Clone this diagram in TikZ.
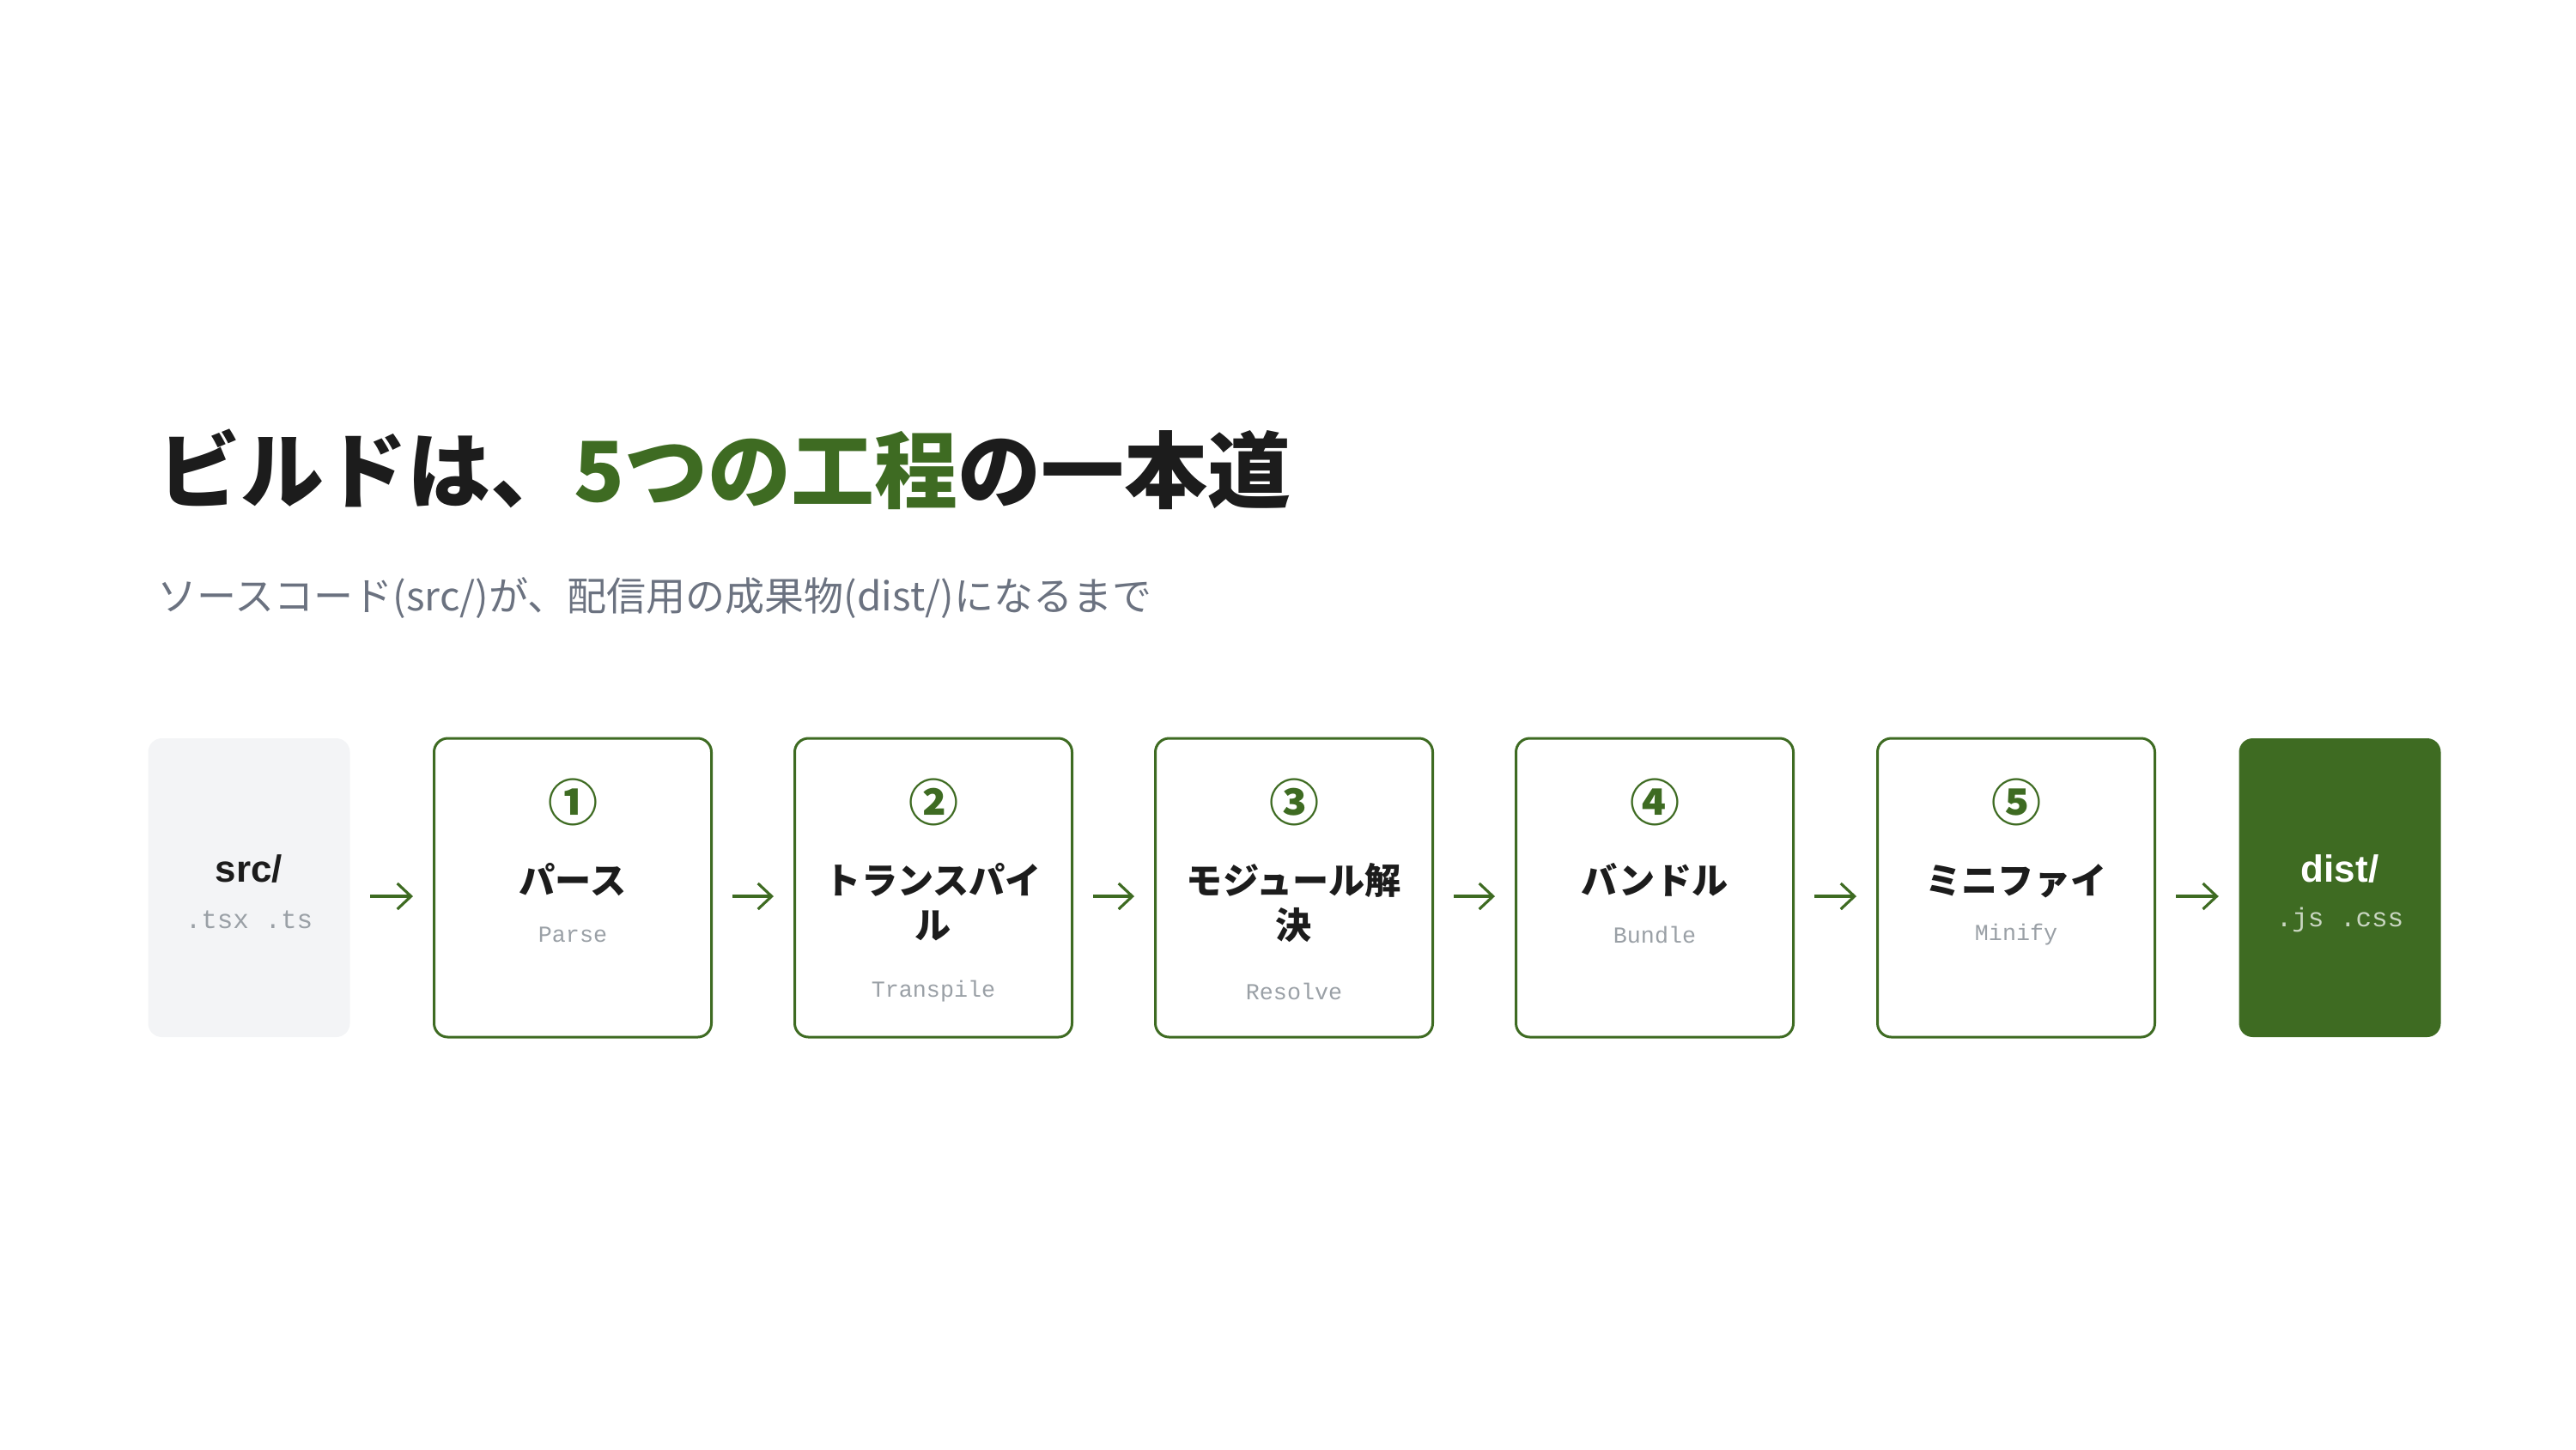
\documentclass[tikz,border=0pt]{standalone}
\usepackage{fontspec}
\setmainfont{Noto Sans CJK JP}
\setmonofont{Liberation Mono}
\newfontfamily\latinsans{Liberation Sans}
\usetikzlibrary{arrows.meta}
\definecolor{MyGreen}{HTML}{3E6B22}
\definecolor{InkBlack}{HTML}{1C1C1C}
\definecolor{SubGray}{HTML}{6B7280}
\definecolor{CodeGray}{HTML}{9AA0A6}
\definecolor{SrcGray}{HTML}{F3F4F6}
\colorlet{DistCode}{white!72!MyGreen}

\begin{document}
\begin{tikzpicture}[
    stepbox/.style={draw=MyGreen, line width=0.85pt, fill=white, rounded corners=0.16cm,
        minimum width=3.23cm, minimum height=3.48cm, inner sep=0pt},
    endbox/.style={rounded corners=0.16cm, minimum width=2.35cm, minimum height=3.48cm, inner sep=0pt},
    numtext/.style={inner sep=0pt, text=MyGreen, font=\bfseries\fontsize{16.5}{18}\selectfont},
    jatext/.style={inner sep=0pt, anchor=base, align=center, text=InkBlack,
        font=\bfseries\fontsize{12}{14.8}\selectfont},
    entext/.style={inner sep=0pt, text=CodeGray, font=\ttfamily\fontsize{7.6}{9}\selectfont},
    dirtext/.style={inner sep=0pt, font=\latinsans\bfseries\fontsize{12.5}{15}\selectfont},
    exttext/.style={inner sep=0pt, font=\ttfamily\fontsize{8.8}{10}\selectfont},
    flow/.style={MyGreen, line width=0.9pt, -{Straight Barb[length=1.6mm,width=3mm]},
        shorten <=0.23cm, shorten >=0.23cm}]
    \useasboundingbox (0,0) rectangle (30,-16.88);

    % heading
    \node[anchor=west, inner sep=0pt, text=InkBlack, font=\bfseries\fontsize{27.6}{34}\selectfont]
        (title) at (1.83,-5.47) {ビルドは、\textcolor{MyGreen}{5つの工程}の一本道};
    \node[anchor=west, inner sep=0pt, text=SubGray, font=\fontsize{13.1}{16}\selectfont]
        (subtitle) at (1.83,-6.97) {ソースコード(src/)が、配信用の成果物(dist/)になるまで};

    % input and output
    \node[endbox, fill=SrcGray] (src) at (2.90,-10.34) {};
    \node[dirtext, text=InkBlack] (srcdir) at (2.90,-10.12) {src/};
    \node[exttext, text=CodeGray] (srcext) at (2.90,-10.71) {.tsx .ts};

    \node[endbox, fill=MyGreen] (dist) at (27.25,-10.34) {};
    \node[dirtext, text=white] (distdir) at (27.25,-10.12) {dist/};
    \node[exttext, text=DistCode] (distext) at (27.25,-10.71) {.js .css};

    % the five steps (base of the last line of the name sits at \jy)
    \foreach[count=\i] \x/\num/\ja/\jy/\en/\ey in {6.67/①/パース/-10.41/Parse/-10.89,
            10.87/②/{トランスパイ\\ル}/-10.93/Transpile/-11.55,
            15.07/③/{モジュール解\\決}/-10.93/Resolve/-11.55,
            19.27/④/バンドル/-10.41/Bundle/-10.89,
            23.48/⑤/ミニファイ/-10.41/Minify/-10.89} {
        \node[stepbox] (s\i) at (\x,-10.34) {};
        \node[numtext] (num\i) at (\x,-9.34) {\num};
        \node[jatext] (ja\i) at (\x,\jy) {\ja};
        \node[entext] (en\i) at (\x,\ey) {\en};
    }

    \foreach \a/\b in {src/s1,s1/s2,s2/s3,s3/s4,s4/s5,s5/dist}
        \draw[flow] ([yshift=-0.1cm]\a.east) -- ([yshift=-0.1cm]\b.west);
\end{tikzpicture}
\end{document}
